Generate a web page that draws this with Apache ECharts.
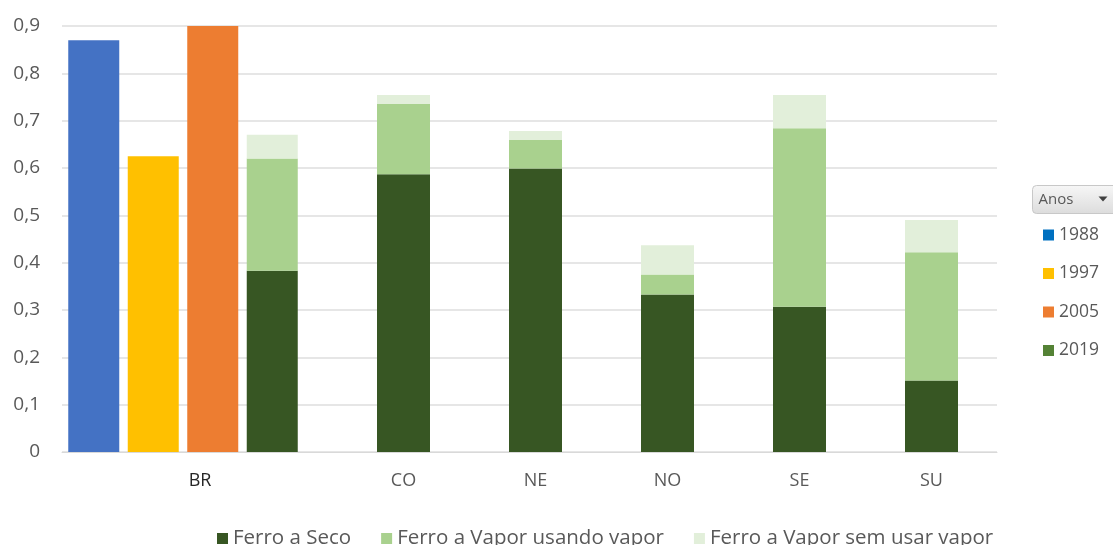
<!DOCTYPE html>
<html>
<head>
<meta charset="utf-8">
<script src="https://cdn.jsdelivr.net/npm/echarts@6/dist/echarts.min.js"></script>
<style>
html,body{margin:0;padding:0;background:#fff;}
#chart{width:1113px;height:545px;}
</style>
</head>
<body>
<div id="chart"></div>
<script>
// ---- data ----
var years = ['1988', '1997', '2005', '2019'];
var brYearValues = [0.870, 0.625, 0.900];            // BR totals for 1988, 1997, 2005
var regions = ['BR', 'CO', 'NE', 'NO', 'SE', 'SU'];   // 2019 breakdown
var seco    = [0.383, 0.587, 0.599, 0.333, 0.307, 0.151];
var usando  = [0.237, 0.148, 0.060, 0.042, 0.377, 0.271];
var semUsar = [0.050, 0.019, 0.019, 0.062, 0.070, 0.068];
var typeNames = ['Ferro a Seco', 'Ferro a Vapor usando vapor', 'Ferro a Vapor sem usar vapor'];
var yTicks = [0, 0.1, 0.2, 0.3, 0.4, 0.5, 0.6, 0.7, 0.8, 0.9];

// ---- styles ----
var yearColors = ['#4472C4', '#FFC000', '#ED7D31'];
var yearLegendColors = ['#0070C0', '#FFC000', '#ED7D31', '#548235'];
var typeColors = ['#375623', '#A9D18E', '#E2EFDA'];
var FONT = 'Open Sans';
var TXT = '#595959';

var chart = echarts.init(document.getElementById('chart'));

var TOP = 26, BOTTOM = 93;
function hiddenY(idx) {
  return { type: 'value', gridIndex: idx, min: 0, max: 0.9, interval: 0.1, show: false };
}

var series = [];
// BR year bars (1988, 1997, 2005)
for (var i = 0; i < 3; i++) {
  var d = years.map(function () { return '-'; });
  d[i] = brYearValues[i];
  series.push({
    name: years[i], type: 'bar', xAxisIndex: 1, yAxisIndex: 1, stack: 'br',
    barWidth: 51, data: d, itemStyle: { color: yearColors[i] }
  });
}
// legend-only entry for 2019
series.push({ name: '2019', type: 'bar', xAxisIndex: 1, yAxisIndex: 1, stack: 'br', data: [], itemStyle: { color: yearLegendColors[3] } });

var typeData = [seco, usando, semUsar];
// BR 2019 stacked (in year grid, 4th slot)
for (var t = 0; t < 3; t++) {
  series.push({
    name: typeNames[t], type: 'bar', xAxisIndex: 1, yAxisIndex: 1, stack: 'br',
    barWidth: 51, data: ['-', '-', '-', typeData[t][0]], itemStyle: { color: typeColors[t] }
  });
}
// Regions 2019 stacked
for (var t2 = 0; t2 < 3; t2++) {
  series.push({
    name: typeNames[t2], type: 'bar', xAxisIndex: 3, yAxisIndex: 3, stack: 'reg',
    barWidth: 53, data: typeData[t2].slice(1), itemStyle: { color: typeColors[t2] }
  });
}

var option = {
  animation: false,
  backgroundColor: '#ffffff',
  textStyle: { fontFamily: FONT },
  grid: [
    { left: 62, right: 116, top: TOP, bottom: BOTTOM },        // frame, y labels, gridlines
    { left: 64, width: 238, top: TOP, bottom: BOTTOM },        // BR by year
    { left: 62, width: 276, top: TOP, bottom: BOTTOM },        // BR label
    { left: 337.5, width: 660, top: TOP, bottom: BOTTOM }      // regions
  ],
  xAxis: [
    { type: 'category', gridIndex: 0, data: [''], axisLine: { lineStyle: { color: '#d9d9d9', width: 1 } },
      axisTick: { show: false }, axisLabel: { show: false } },
    { type: 'category', gridIndex: 1, data: years, show: false },
    { type: 'category', gridIndex: 2, data: regions.slice(0, 1), axisLine: { show: false }, axisTick: { show: false },
      axisLabel: { margin: 20, fontSize: 18, color: '#262626', fontFamily: FONT } },
    { type: 'category', gridIndex: 3, data: regions.slice(1), axisLine: { show: false }, axisTick: { show: false },
      axisLabel: { margin: 20, fontSize: 18, color: TXT, fontFamily: FONT } }
  ],
  yAxis: [
    { type: 'value', gridIndex: 0, min: yTicks[0], max: yTicks[yTicks.length - 1], interval: 0.1,
      axisLine: { show: false }, axisTick: { show: false },
      axisLabel: { margin: 22, fontSize: 19, color: TXT, fontFamily: FONT,
        formatter: function (v) { return v === 0 ? '0' : v.toFixed(1).replace('.', ','); } },
      splitLine: { lineStyle: { color: '#e6e6e6', width: 2 } } },
    hiddenY(1), hiddenY(2), hiddenY(3)
  ],
  legend: [
    { data: typeNames, left: 212, top: 523, icon: 'rect', itemWidth: 11, itemHeight: 11, itemGap: 30,
      textStyle: { fontSize: 20.5, color: TXT, fontFamily: FONT } },
    { data: years.map(function (y, k) { return { name: y, itemStyle: { color: yearLegendColors[k] } }; }),
      orient: 'vertical', left: 1038, top: 221, icon: 'rect', itemWidth: 11, itemHeight: 11, itemGap: 20.5,
      textStyle: { fontSize: 17.5, color: TXT, fontFamily: FONT } }
  ],
  graphic: [
    { type: 'group', left: 1032, top: 185, children: [
      { type: 'rect', shape: { x: 0, y: 0, width: 90, height: 28, r: 4 },
        style: { fill: new echarts.graphic.LinearGradient(0, 0, 0, 1, [
          { offset: 0, color: '#f7f7f7' }, { offset: 1, color: '#dcdcdc' }]), stroke: '#c8c8c8', lineWidth: 1 } },
      { type: 'text', x: 6, y: 14, style: { text: 'Anos', fontSize: 15, fill: TXT, fontFamily: FONT, verticalAlign: 'middle' } },
      { type: 'polygon', shape: { points: [[66, 11], [75, 11], [70.5, 16]] }, style: { fill: '#404040' } }
    ] }
  ],
  series: series
};
chart.setOption(option);
</script>
</body>
</html>
